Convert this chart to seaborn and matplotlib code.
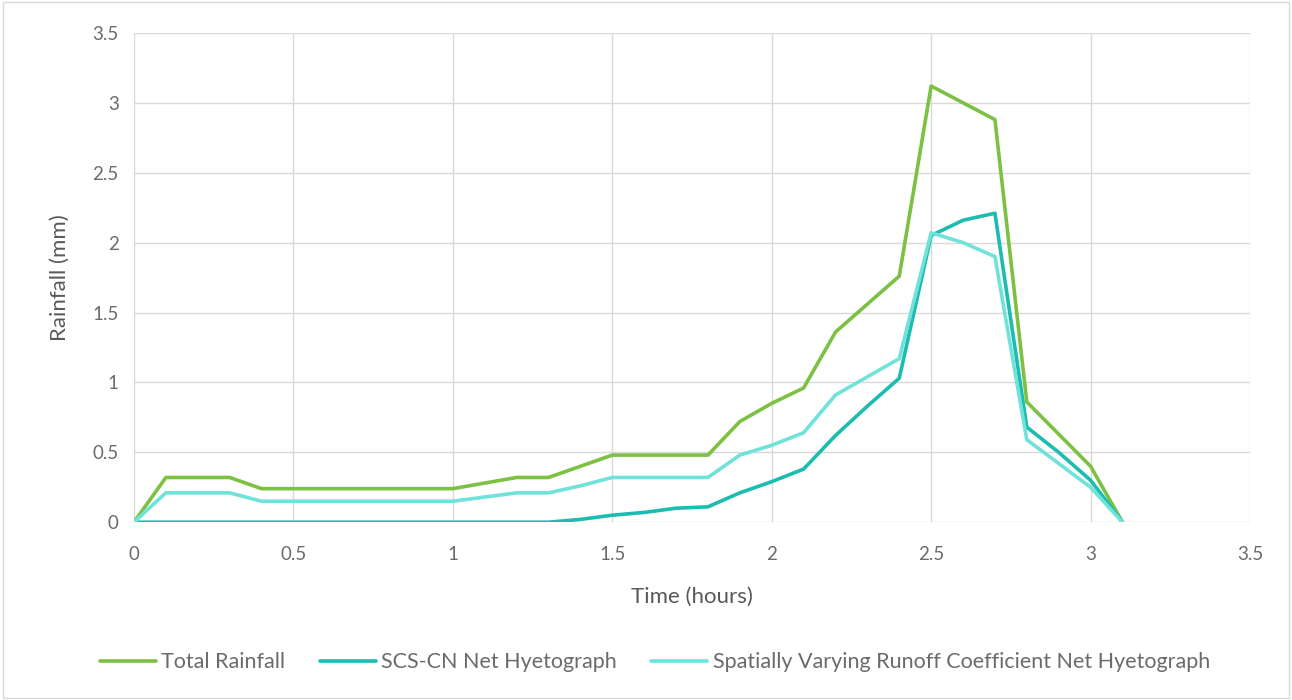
import numpy as np
import pandas as pd
import matplotlib
matplotlib.use("Agg")
import matplotlib.pyplot as plt
import seaborn as sns

# time in hours, 0.1 h steps
time_h = [0.0, 0.1, 0.2, 0.3, 0.4, 0.5, 0.6, 0.7, 0.8, 0.9, 1.0,
          1.1, 1.2, 1.3, 1.4, 1.5, 1.6, 1.7, 1.8, 1.9, 2.0,
          2.1, 2.2, 2.3, 2.4, 2.5, 2.6, 2.7, 2.8, 2.9, 3.0, 3.1]

total_rainfall = [0.0, 0.32, 0.32, 0.32, 0.24, 0.24, 0.24, 0.24, 0.24, 0.24, 0.24,
                  0.28, 0.32, 0.32, 0.40, 0.48, 0.48, 0.48, 0.48, 0.72, 0.85,
                  0.96, 1.36, 1.56, 1.76, 3.12, 3.00, 2.88, 0.86, 0.63, 0.40, 0.0]

scs_cn = [0.0, 0.0, 0.0, 0.0, 0.0, 0.0, 0.0, 0.0, 0.0, 0.0, 0.0,
          0.0, 0.0, 0.0, 0.02, 0.05, 0.07, 0.10, 0.11, 0.21, 0.29,
          0.38, 0.62, 0.83, 1.03, 2.05, 2.16, 2.21, 0.68, 0.50, 0.30, 0.0]

spatial_rc = [0.0, 0.21, 0.21, 0.21, 0.15, 0.15, 0.15, 0.15, 0.15, 0.15, 0.15,
              0.18, 0.21, 0.21, 0.26, 0.32, 0.32, 0.32, 0.32, 0.48, 0.55,
              0.64, 0.91, 1.04, 1.17, 2.07, 2.00, 1.90, 0.59, 0.42, 0.25, 0.0]

series_names = ["Total Rainfall", "SCS-CN Net Hyetograph",
                "Spatially Varying Runoff Coefficient Net Hyetograph"]
series_colors = ["#7dc142", "#1cbcb0", "#6fe2da"]

df = pd.DataFrame({
    "Time (hours)": time_h * 3,
    "Rainfall (mm)": total_rainfall + scs_cn + spatial_rc,
    "Series": [n for n in series_names for _ in time_h],
})

sns.set_theme(style="white")
plt.rcParams["font.family"] = ["Lato", "DejaVu Sans"]

fig = plt.figure(figsize=(12.92, 7.0), dpi=100)
ax = fig.add_axes([0.1037, 0.254, 0.8638, 0.699])

sns.lineplot(data=df, x="Time (hours)", y="Rainfall (mm)", hue="Series",
             hue_order=series_names, palette=series_colors, linewidth=2.6,
             ax=ax, sort=False)

ax.set_xlim(0, 3.5)
ax.set_ylim(0, 3.5)
ticks = np.arange(0, 3.51, 0.5)
labels = ["0", "0.5", "1", "1.5", "2", "2.5", "3", "3.5"]
ax.set_xticks(ticks)
ax.set_xticklabels(labels)
ax.set_yticks(ticks)
ax.set_yticklabels(labels)
ax.grid(True, color="#d9d9d9", linewidth=1.0)
for s in ax.spines.values():
    s.set_visible(False)
ax.tick_params(axis="both", length=0, labelsize=13.5, labelcolor="#6b6b6b")
ax.tick_params(axis="x", pad=17)
ax.tick_params(axis="y", pad=11)
ax.set_xlabel("Time (hours)", fontsize=16, color="#595959", labelpad=17)
ax.set_ylabel("Rainfall (mm)", fontsize=16, color="#595959", labelpad=16)

ax.legend_.remove()
handles, _ = ax.get_legend_handles_labels()
fig.legend(handles, series_names, loc="center", bbox_to_anchor=(0.507, 0.054),
           ncol=3, frameon=False, fontsize=15.5, labelcolor="#6b6b6b",
           handlelength=2.6, columnspacing=1.6, handletextpad=0.25)

# light chart border like the original
fig.patches.append(plt.Rectangle((0.002, 0.003), 0.996, 0.994, transform=fig.transFigure,
                                 fill=False, edgecolor="#d9d9d9", linewidth=1.0))

fig.savefig("out.png", dpi=100, facecolor="white")
